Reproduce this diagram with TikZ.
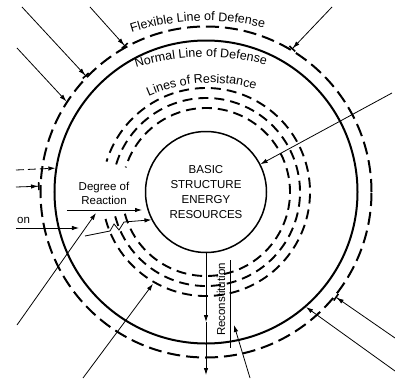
\documentclass[tikz,border=0pt]{standalone}
\usepackage{fontspec}
\setmainfont{Liberation Sans}
\usetikzlibrary{arrows.meta,decorations.text,calc}
\newcommand\arcfont{\fontsize{12.5}{14}\selectfont}

\begin{document}
\begin{tikzpicture}[x=1pt,y=1pt,
    stressor/.style={line width=0.8pt,-{Latex[length=7pt,width=4.5pt]}},
    stopped/.style={line width=0.8pt,-{Latex[length=7pt,width=4.5pt]Bar[width=8pt,line width=1.6pt]}},
    ring/.style={circle,draw,line width=2pt,inner sep=0pt},
    resline/.style={line width=1.9pt,dash pattern=on 10pt off 6pt},
    plaintext/.style={font=\fontsize{11.5}{14}\selectfont,align=center,inner sep=0pt}]
    \useasboundingbox (-206,-186) rectangle (189,192);
    % the rings
    \node[ring,line width=1.5pt,minimum size=121pt,font=\fontsize{11.5}{15}\selectfont,align=center] (basic) at (0,0) {BASIC\\STRUCTURE\\ENERGY\\RESOURCES};
    \node[ring,minimum size=303pt] (normal) at (0,0) {};
    \node[ring,dash pattern=on 13pt off 6pt,minimum size=331pt] (flex) at (0,0) {};
    \foreach \r in {84,94,104}
        \draw[resline] (195:\r) arc[start angle=195,end angle=523,radius=\r];
    % curved labels
    \path[decorate,decoration={text along path,text align=center,text={|\arcfont|Flexible Line of Defense}}]
        ($(0,-72)+(152:243)$) arc[start angle=152,end angle=32,radius=243];
    \path[decorate,decoration={text along path,text align=center,text={|\arcfont|Normal Line of Defense}}]
        ($(0,-96)+(151.3:231)$) arc[start angle=151.3,end angle=31.3,radius=231];
    \path[decorate,decoration={text along path,text align=center,text={|\arcfont|Lines of Resistance}}]
        ($(5,-44)+(153.6:153)$) arc[start angle=153.6,end angle=33.6,radius=153];
    % plain labels
    \node[plaintext] (degree) at (-102,-1.5) {Degree of\\Reaction};
    \node[plaintext,anchor=west] (onlbl) at (-189,-28) {on};
    \node[plaintext,rotate=90] (recon) at (15,-107.5) {Reconstitution};
    % stressors from outside
    \coordinate (s1) at (-116,185);
    \coordinate (s2) at (-184,185);
    \coordinate (s3) at (-189,144);
    \coordinate (s4) at (-190,22);
    \coordinate (s5) at (-190,5);
    \coordinate (s6) at (-190,-36);
    \coordinate (e6) at (-127,-36);
    \coordinate (s8) at (-189,-133);
    \coordinate (e8) at (-110,-21);
    \coordinate (s10) at (186,99);
    \coordinate (s11) at (126,185);
    \coordinate (s12) at (189,-146);
    \coordinate (s13) at (189,-179);
    \coordinate (s17) at (-123,-186);
    \coordinate (e17) at (240:106);
    \draw[stopped] (s1) -- (flex.119.5);
    \draw[stopped] (s2) -- (flex.136.5);
    \draw[stressor] (s3) -- (flex.147);
    \draw[stressor,dash pattern=on 8pt off 4pt] (s4) -- (normal.171.6);
    \draw[stopped] (s5) -- (flex.178.3);
    \draw[stressor] (s6) -- (e6);
    \draw[stressor] (s8) -- (e8);
    \draw[stressor] (s10) -- (basic.27);
    \draw[stopped] (s11) -- (flex.59.7);
    \draw[stopped] (s12) -- (flex.321.4);
    \draw[stressor] (s13) -- (normal.311.7);
    \draw[stressor] (s17) -- (e17);
    % degree of reaction
    \coordinate (d1) at (-139,-18);
    \coordinate (d2) at (-64,-18);
    \draw[stressor] (d1) -- (d2);
    \coordinate (z1) at (-121,-44);
    \draw[stressor] (z1) -- (-96,-39) -- (-92,-32) -- (-87,-38) -- (-82,-30) -- (basic.207);
    % reaction and reconstitution
    \coordinate (m14) at (0,-130);
    \coordinate (e14) at (0,-183);
    \draw[stressor] (basic.south) -- (m14);
    \draw[stressor] (m14) -- (e14);
    \coordinate (r1) at (24,-68);
    \coordinate (r2) at (24,-156);
    \draw[line width=0.8pt] (r1) -- (r2);
    \coordinate (s16) at (44,-186);
    \coordinate (e16) at (28,-133);
    \draw[stressor] (s16) -- (e16);
\end{tikzpicture}
\end{document}
